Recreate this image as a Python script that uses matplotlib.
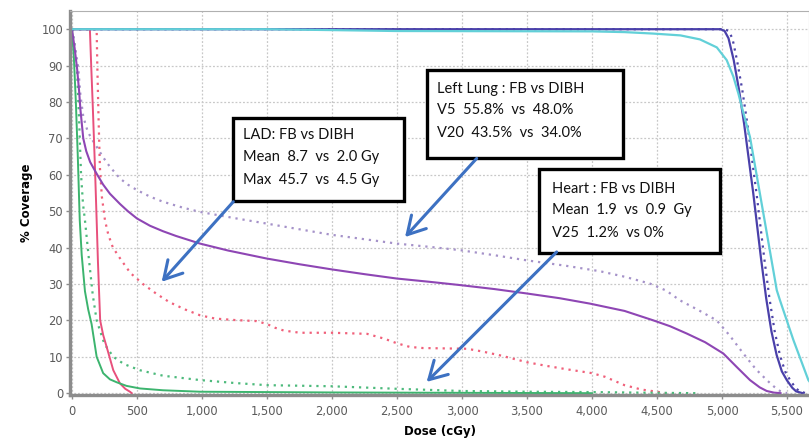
import matplotlib
matplotlib.use("Agg")
import matplotlib.pyplot as plt
from matplotlib.patches import Rectangle
from matplotlib.ticker import FuncFormatter

# ---- DVH data (dose in cGy, % volume covered) ----
ptv_fb_dose = [0, 4900, 4990, 5020, 5050, 5090, 5130, 5170, 5240, 5300, 5340, 5380, 5420, 5460, 5500, 5540, 5570, 5620]
ptv_fb_cov = [100, 100, 100, 99.5, 97.5, 91.5, 83.5, 74, 55, 37, 26, 17, 10.5, 6, 3.5, 1.5, 0.5, 0]

ptv_fb2_dose = [0, 4900, 5020, 5050, 5080, 5115, 5155, 5195, 5265, 5325, 5365, 5405, 5445, 5485, 5525, 5565, 5595, 5645]
ptv_fb2_cov = [100, 100, 100, 99.5, 97.5, 91.5, 83.5, 74, 55, 37, 26, 17, 10.5, 6, 3.5, 1.5, 0.5, 0]

ptv_dibh_dose = [0, 1500, 2500, 4000, 4250, 4470, 4680, 4830, 4960, 5036, 5087, 5126, 5164, 5215, 5318, 5421, 5446, 5549, 5664, 5720]
ptv_dibh_cov = [100, 100, 99.5, 99.4, 99.2, 98.8, 98.3, 97.2, 95.0, 91.5, 87.0, 82.3, 77.0, 70.4, 49.4, 28.3, 25.5, 14.6, 3.6, 1.0]

lung_fb_dose = [0, 20, 48, 65, 87, 120, 150, 190, 240, 292, 369, 430, 500, 600, 700, 850, 985, 1250,
                1497, 1754, 2000, 2250, 2498, 2750, 2985, 3250, 3497, 3800, 4062, 4250, 4446, 4570,
                4677, 4820, 4959, 5060, 5164, 5260, 5344, 5400, 5446, 5500]
lung_fb_cov = [100, 96, 89.6, 82, 76, 72, 70, 67.7, 64.8, 62.2, 59, 57.3, 55.8, 54, 52.6, 51, 49.8, 48.1,
               46.6, 45, 43.5, 42.3, 41.1, 40.2, 39.3, 37.9, 36.5, 35, 33.5, 32, 30.1, 28.2,
               25.5, 22.8, 20, 15.8, 10.9, 6.6, 3.6, 1.8, 0.6, 0]

lung_dibh_dose = [0, 20, 40, 55, 65, 87, 110, 140, 190, 240, 292, 369, 430, 500, 600, 700, 800, 985,
                  1200, 1497, 1754, 2000, 2250, 2498, 2750, 2985, 3250, 3497, 3750, 3985, 4250, 4472,
                  4600, 4728, 4870, 5010, 5113, 5215, 5290, 5344, 5400, 5450]
lung_dibh_cov = [100, 95, 89, 83, 78, 70, 66.5, 63.5, 60.3, 57.3, 54.8, 52, 50, 48.0, 46, 44.5, 43.2, 41.1,
                 39.2, 37, 35.4, 34.0, 32.7, 31.5, 30.6, 29.7, 28.6, 27.4, 26.1, 24.6, 22.6, 20,
                 18.4, 16.4, 14, 10.9, 7.2, 3.6, 1.6, 0.6, 0.15, 0]

lad_fb_dose = [0, 190, 195, 205, 215, 230, 254, 280, 315, 380, 450, 546, 650, 750, 870, 985, 1100, 1250,
               1420, 1500, 1560, 1630, 1754, 2000, 2270, 2400, 2500, 2600, 2700, 3040, 3150, 3292,
               3500, 3650, 3800, 4000, 4100, 4250, 4380, 4500, 4570]
lad_fb_cov = [100, 100, 90, 75, 62, 54, 47.5, 43.5, 40, 36.5, 33, 30, 27.3, 25, 23, 21.4, 20.5, 20.1,
              19.8, 19, 18, 17.2, 16.6, 16.6, 16.3, 15, 13.7, 12.7, 12.4, 12.2, 11.5, 10.4,
              8.5, 7.5, 6.6, 5.5, 4.5, 2.2, 1.0, 0.4, 0]

lad_dibh_dose = [0, 138, 148, 159, 177, 190, 200, 217, 240, 267, 318, 369, 410, 446, 460]
lad_dibh_cov = [100, 100, 90, 80, 62, 47.5, 36, 20, 16, 12.7, 6.3, 2.7, 1.2, 0.4, 0]

heart_fb_dose = [0, 20, 40, 55, 70, 85, 100, 130, 160, 190, 250, 318, 400, 523, 700, 985, 1250, 1500,
                 2000, 2500, 3000, 3500, 4000, 4500, 4800]
heart_fb_cov = [100, 96, 88, 75, 60, 52, 47.5, 37, 27, 20, 13.5, 10, 8, 6.3, 4.8, 3.6, 2.8, 2.2,
                1.9, 1.2, 0.6, 0.4, 0.3, 0.1, 0]

heart_dibh_dose = [0, 15, 30, 45, 60, 75, 100, 125, 151, 190, 240, 292, 344, 420, 523, 700, 985, 1500, 2000, 3000, 4000]
heart_dibh_cov = [100, 92, 80, 65, 47.5, 38, 28, 23, 19, 10, 5.5, 3.8, 3.0, 2.0, 1.3, 0.8, 0.4, 0.3, 0.2, 0.1, 0]

x_ticks = [0, 500, 1000, 1500, 2000, 2500, 3000, 3500, 4000, 4500, 5000, 5500]
y_ticks = [0, 10, 20, 30, 40, 50, 60, 70, 80, 90, 100]

lad_text = ["LAD: FB vs DIBH", "Mean  8.7  vs  2.0 Gy", "Max  45.7  vs  4.5 Gy"]
lung_text = ["Left Lung : FB vs DIBH", "V5  55.8%  vs  48.0%", "V20  43.5%  vs  34.0%"]
heart_text = ["Heart : FB vs DIBH", "Mean  1.9  vs  0.9  Gy", "V25  1.2%  vs 0%"]

# ---- figure ----
fig = plt.figure(figsize=(8.09, 4.41), dpi=100)
ax = fig.add_axes([70 / 809, 1 - 395 / 441, 1 - 70 / 809, (395 - 11) / 441])
ax.set_xlim(-15, 5669)
ax.set_ylim(-0.5, 105)

dot = (0, (1, 2.2))
ax.plot(lad_fb_dose, lad_fb_cov, color="#f0607a", lw=1.6, ls=dot)
ax.plot(heart_fb_dose, heart_fb_cov, color="#4dba7c", lw=1.6, ls=dot)
ax.plot(lung_fb_dose, lung_fb_cov, color="#a592c9", lw=1.6, ls=dot)
ax.plot(ptv_fb2_dose, ptv_fb2_cov, color="#4d44a8", lw=1.6, ls=dot)
ax.plot(lad_dibh_dose, lad_dibh_cov, color="#e8507c", lw=1.4)
ax.plot(heart_dibh_dose, heart_dibh_cov, color="#3cb46e", lw=1.4)
ax.plot(lung_dibh_dose, lung_dibh_cov, color="#8e46b4", lw=1.5)
ax.plot(ptv_fb_dose, ptv_fb_cov, color="#4a40aa", lw=1.6)
ax.plot(ptv_dibh_dose, ptv_dibh_cov, color="#62d0d8", lw=1.6)

# grid and axes styling
ax.set_xticks(x_ticks)
ax.set_yticks(y_ticks)
ax.xaxis.set_major_formatter(FuncFormatter(lambda v, p: f"{int(v):,}"))
ax.grid(True, color="#c8c8c8", ls=(0, (1.5, 1.5)), lw=0.9)
ax.set_axisbelow(True)
for side in ("top", "right"):
    ax.spines[side].set_color("#b0b0b0")
    ax.spines[side].set_linewidth(0.8)
for side in ("left", "bottom"):
    ax.spines[side].set_color("#8c8c8c")
    ax.spines[side].set_linewidth(2.4)
ax.tick_params(axis="both", colors="#8c8c8c", length=3, width=1,
               labelcolor="#5a5a5a", labelsize=8.3)
ax.tick_params(axis="x", pad=4)
ax.tick_params(axis="y", pad=2)

ax.set_xlabel("Dose (cGy)", fontsize=8.5, fontweight="bold", labelpad=5)
ax.set_ylabel("% Coverage", fontsize=8.5, fontweight="bold", labelpad=6)

# ---- annotation boxes and arrows ----
box_font = dict(family=["Lato", "DejaVu Sans"], fontsize=10.5, color="#111111")


def text_box(x0, x1, y0, y1, tx, ty_list, lines):
    ax.add_patch(Rectangle((x0, y0), x1 - x0, y1 - y0, facecolor="white",
                           edgecolor="black", lw=2.4, zorder=5))
    for ty, s in zip(ty_list, lines):
        ax.text(tx, ty, s, va="center", ha="left", zorder=6, **box_font)


def arrow(start, tip):
    ax.annotate("", xy=tip, xytext=start, zorder=7,
                arrowprops=dict(arrowstyle="->,head_length=0.7,head_width=0.4",
                                color="#3d71c2", lw=2.2, mutation_scale=18,
                                shrinkA=0, shrinkB=0))


arrow((1241, 52.6), (690, 30.6))
arrow((3113, 64.5), (2562, 42.9))
arrow((3728, 38.8), (2728, 3.1))

text_box(1236, 2554, 52.8, 75.5, 1315, [70.9, 64.8, 58.5], lad_text)
text_box(2728, 4236, 64.5, 88.9, 2805, [83.7, 77.7, 71.5], lung_text)
text_box(3592, 4985, 38.5, 61.7, 3692, [56.2, 50.3, 43.9], heart_text)

fig.savefig("out.png", dpi=100)
